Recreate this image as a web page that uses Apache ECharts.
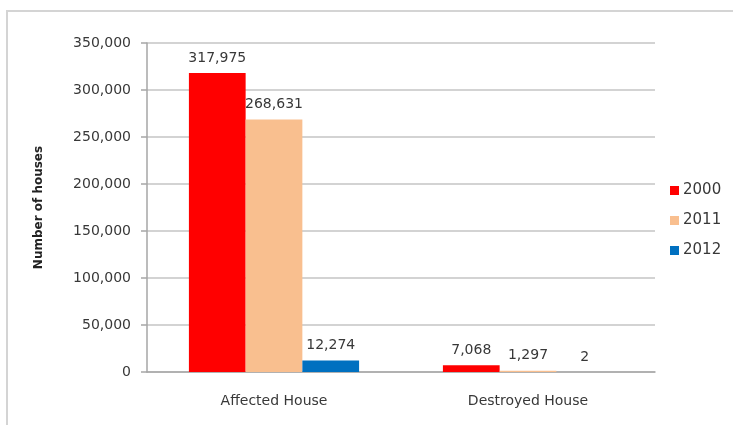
<!DOCTYPE html>
<html>
<head>
<meta charset="utf-8">
<script src="https://cdn.jsdelivr.net/npm/echarts@6/dist/echarts.min.js"></script>
<style>
  html, body { margin: 0; padding: 0; background: #fff; }
  #chart { width: 733px; height: 425px; }
</style>
</head>
<body>
<div id="chart"></div>
<script>
// House damage by year
const categories = ['Affected House', 'Destroyed House'];
const years = ['2000', '2011', '2012'];
const values2000 = [317975, 7068];
const values2011 = [268631, 1297];
const values2012 = [12274, 2];
const seriesColors = ['#ff0000', '#f9bf8f', '#0070c0'];
const yTicks = { min: 0, max: 350000, interval: 50000 };

const fontFamily = '"DejaVu Sans", sans-serif';
const textColor = '#383838';

const chart = echarts.init(document.getElementById('chart'));

const fmt = v => v.toLocaleString('en-US');

const seriesData = [values2000, values2011, values2012];

chart.setOption({
  animation: false,
  textStyle: { fontFamily },
  graphic: [{
    type: 'rect',
    shape: { x: 7, y: 11, width: 760, height: 440 },
    style: { fill: 'none', stroke: '#d4d4d4', lineWidth: 2 },
    silent: true
  }],
  grid: { left: 147, right: 78, top: 43, bottom: 53 },
  legend: {
    orient: 'vertical',
    left: 665,
    top: 178,
    itemWidth: 9,
    itemHeight: 9,
    itemGap: 15,
    itemStyle: { borderWidth: 0 },
    icon: 'rect',
    data: years,
    textStyle: { fontSize: 15, color: textColor, fontFamily, padding: [0, 0, 0, -1] }
  },
  xAxis: {
    type: 'category',
    data: categories,
    axisLine: { lineStyle: { color: '#a6a6a6', width: 1.5 } },
    axisTick: { show: false },
    axisLabel: { fontSize: 14, color: textColor, margin: 22, fontFamily }
  },
  yAxis: {
    type: 'value',
    min: yTicks.min,
    max: yTicks.max,
    interval: yTicks.interval,
    name: 'Number of houses',
    nameLocation: 'middle',
    nameGap: 102,
    nameTextStyle: { fontSize: 12, color: '#222', fontWeight: 'bold', fontFamily },
    axisLine: { show: true, lineStyle: { color: '#a6a6a6', width: 1.5 } },
    axisTick: { show: true, length: 6, lineStyle: { color: '#a6a6a6', width: 1.5 } },
    axisLabel: { fontSize: 14, color: textColor, margin: 16, formatter: v => fmt(v), fontFamily },
    splitLine: { lineStyle: { color: '#c4c4c4', width: 1.5 } }
  },
  series: years.map((y, i) => ({
    name: y,
    type: 'bar',
    data: seriesData[i],
    barGap: '0%',
    barCategoryGap: '33%',
    itemStyle: { color: seriesColors[i] },
    label: {
      show: true,
      position: 'top',
      distance: 8,
      fontSize: 14,
      color: textColor,
      fontFamily,
      formatter: p => fmt(p.value)
    }
  }))
});
</script>
</body>
</html>
